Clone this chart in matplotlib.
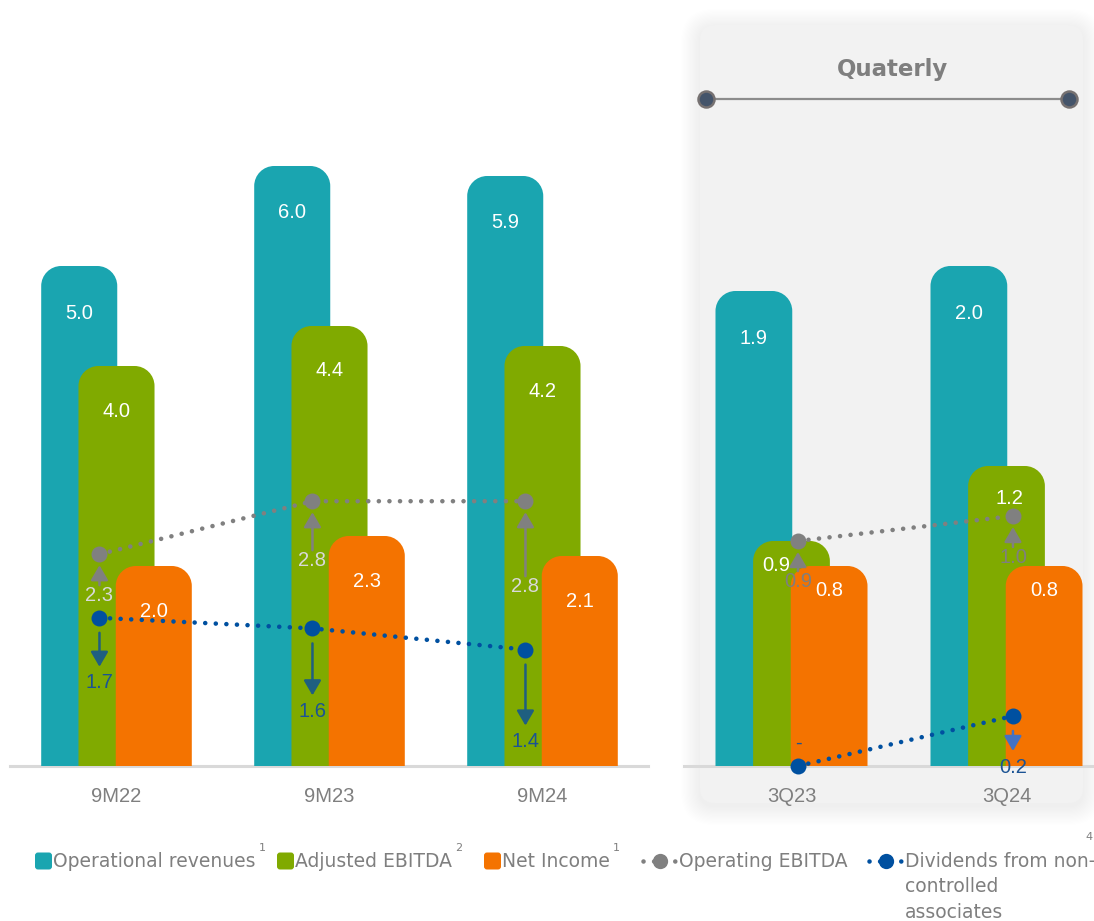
import matplotlib
matplotlib.use("Agg")
import matplotlib.pyplot as plt
from matplotlib.patches import FancyBboxPatch, PathPatch
from matplotlib.path import Path
from matplotlib.lines import Line2D
import numpy as np

# ---------------- data ----------------
categories_9m = ["9M22", "9M23", "9M24"]
categories_q = ["3Q23", "3Q24"]
op_rev_9m = [5.0, 6.0, 5.9]
adj_ebitda_9m = [4.0, 4.4, 4.2]
net_income_9m = [2.0, 2.3, 2.1]
operating_ebitda_9m = [2.3, 2.8, 2.8]
dividends_9m = [1.7, 1.6, 1.4]
op_rev_q = [1.9, 2.0]
adj_ebitda_q = [0.9, 1.2]
net_income_q = [0.8, 0.8]
operating_ebitda_q = [0.9, 1.0]
dividends_q = [0.0, 0.2]
legend_labels = ["Operational revenues", "Adjusted EBITDA", "Net Income",
                 "Operating EBITDA", "Dividends from non-\ncontrolled\nassociates"]
legend_notes = ["1", "2", "1", "", "4"]
panel_title = "Quaterly"

# ---------------- style ----------------
W, H = 1094, 921
TEAL, GREEN, ORANGE = "#1aa5b0", "#80aa00", "#f47300"
GRAY, BLUE = "#808080", "#0050a0"
TXT_GRAY = "#7f7f7f"
VAL_FONT = ["Liberation Sans", "DejaVu Sans"]
VAL_SIZE = 14.5
PT = 0.72  # points per pixel at dpi 100

fig = plt.figure(figsize=(W / 100, H / 100), dpi=100)
fig.patch.set_facecolor("white")


def inch(px, py):
    return px / 100.0, (H - py) / 100.0


# ---------------- quarterly panel box with shadow ----------------
bx0, by0, bx1, by1 = 700, 25, 1083, 803
for i in range(16, 0, -1):
    e = i * 1.2
    x0, y0 = inch(bx0 - e, by1 + e + 3)
    sh = FancyBboxPatch((x0, y0), (bx1 - bx0 + 2 * e) / 100, (by1 - by0 + 2 * e) / 100,
                        boxstyle=f"round,pad=0,rounding_size={(15 + e) / 100}",
                        transform=fig.dpi_scale_trans, facecolor="black", alpha=0.005,
                        edgecolor="none", zorder=-3)
    fig.add_artist(sh)
x0, y0 = inch(bx0, by1)
fig.add_artist(FancyBboxPatch((x0, y0), (bx1 - bx0) / 100, (by1 - by0) / 100,
                              boxstyle="round,pad=0,rounding_size=0.15",
                              transform=fig.dpi_scale_trans, facecolor="#f2f2f2",
                              edgecolor="none", zorder=-2))

# title and connector
tx, ty = inch(893, 69)
fig.text(tx / (W / 100), ty / (H / 100), panel_title, ha="center", va="center",
         fontsize=16.5, fontweight="bold", color=TXT_GRAY, family=["DejaVu Sans"])
lx0, ly = inch(706, 99)
lx1, _ = inch(1069, 99)
fig.add_artist(Line2D([lx0, lx1], [ly, ly], transform=fig.dpi_scale_trans,
                      color="#8c8c8c", lw=1.6, zorder=1))
fig.add_artist(Line2D([lx0, lx1], [ly, ly], transform=fig.dpi_scale_trans, ls="none",
                      marker="o", ms=11.5, mfc="#44546a", mec="#767171", mew=1.8, zorder=2))

# ---------------- axes ----------------
BASE = 766
TOP = 20
ax_h = BASE - TOP
axL = fig.add_axes([10 / W, (H - BASE) / H, 638 / W, ax_h / H])
axR = fig.add_axes([684 / W, (H - BASE) / H, 410 / W, ax_h / H])

PXY_L, PXX_L = 100.0, 213.0   # px per y unit, px per x unit (left)
PXY_R, PXX_R = 250.0, 215.0
axL.set_xlim(-0.5, 638 / PXX_L - 0.5)
axL.set_ylim(0, ax_h / PXY_L)
axR.set_xlim(-0.5, 410 / PXX_R - 0.5)
axR.set_ylim(0, ax_h / PXY_R)

for a in (axL, axR):
    a.patch.set_visible(False)
    for s in a.spines.values():
        s.set_visible(False)
    a.set_yticks([])
    a.tick_params(axis="x", length=0, pad=15, labelsize=14.5, labelcolor=TXT_GRAY)
    a.axhline(0, color="#d9d9d9", lw=2.2, zorder=0.5, clip_on=False)

axL.set_xticks(np.arange(len(categories_9m)), categories_9m, family=VAL_FONT)
axR.set_xticks(np.arange(len(categories_q)), categories_q, family=VAL_FONT)

BAR_W = 0.357
OFF = 0.175
K = 0.5523


def top_rounded(x0, w, h, rx, ry):
    verts = [(x0, 0), (x0, h - ry), (x0, h - ry + K * ry), (x0 + rx - K * rx, h),
             (x0 + rx, h), (x0 + w - rx, h), (x0 + w - rx + K * rx, h),
             (x0 + w, h - ry + K * ry), (x0 + w, h - ry), (x0 + w, 0), (x0, 0)]
    codes = [Path.MOVETO, Path.LINETO, Path.CURVE4, Path.CURVE4, Path.CURVE4,
             Path.LINETO, Path.CURVE4, Path.CURVE4, Path.CURVE4, Path.LINETO,
             Path.CLOSEPOLY]
    return Path(verts, codes)


def rounded_bars(ax, xs, vals, color, z, pxx, pxy, r_px=20):
    bars = ax.bar(xs, vals, width=BAR_W, color=color, zorder=z, linewidth=0)
    rx, ry = r_px / pxx, r_px / pxy
    for b in bars:
        ax.add_patch(PathPatch(top_rounded(b.get_x(), b.get_width(), b.get_height(), rx, ry),
                               facecolor=color, edgecolor="none", zorder=z))
        b.set_visible(False)
    return bars


def bar_labels(ax, xs, vals, dys, dxs=None):
    for i, (x, v) in enumerate(zip(xs, vals)):
        dx = 0 if dxs is None else dxs[i]
        ax.annotate(f"{v:.1f}", xy=(x, v), xytext=(dx * PT, -dys[i] * PT),
                    textcoords="offset points", ha="center", va="center",
                    color="white", fontsize=VAL_SIZE, family=VAL_FONT, zorder=10)


xL = np.arange(len(categories_9m))
xR = np.arange(len(categories_q))

rounded_bars(axL, xL - OFF, op_rev_9m, TEAL, 1, PXX_L, PXY_L)
rounded_bars(axL, xL, adj_ebitda_9m, GREEN, 2, PXX_L, PXY_L)
rounded_bars(axL, xL + OFF, net_income_9m, ORANGE, 3, PXX_L, PXY_L)
bar_labels(axL, xL - OFF, op_rev_9m, [47, 47, 47])
bar_labels(axL, xL, adj_ebitda_9m, [45, 45, 45])
bar_labels(axL, xL + OFF, net_income_9m, [45, 45, 45])

rounded_bars(axR, xR - OFF, op_rev_q, TEAL, 1, PXX_R, PXY_R)
rounded_bars(axR, xR, adj_ebitda_q, GREEN, 2, PXX_R, PXY_R)
rounded_bars(axR, xR + OFF, net_income_q, ORANGE, 3, PXX_R, PXY_R)
bar_labels(axR, xR - OFF, op_rev_q, [47, 47])
bar_labels(axR, xR, adj_ebitda_q, [24, 32], dxs=[-15, 3])
bar_labels(axR, xR + OFF, net_income_q, [24, 24])

# ---------------- lines ----------------
axL2 = axL.twinx()
axL2.set_ylim(32 / 106, 32 / 106 + ax_h / 106)
axL2.axis("off")

DOT = (0, (0.01, 2.3))


def dotted(ax, xs, vals, color):
    ax.plot(xs, vals, color=color, lw=3.3, ls=DOT, dash_capstyle="round", zorder=6,
            clip_on=False)
    ax.plot(xs, vals, ls="none", marker="o", ms=11.5, mfc=color, mec=color, mew=0,
            zorder=7, clip_on=False)


def line_labels(ax, xs, vals, dys, txt_color, arr_colors, head_at_marker):
    for x, v, dy, ac in zip(xs, vals, dys, arr_colors):
        txt = "-" if v == 0 else f"{v:.1f}"
        ax.annotate(txt, xy=(x, v), xytext=(0, -dy * PT), textcoords="offset points",
                    ha="center", va="center", color=txt_color, fontsize=VAL_SIZE,
                    family=VAL_FONT, zorder=11)
        if v == 0 or ac is None:
            continue
        if head_at_marker:
            props = dict(arrowstyle="-|>,head_length=0.6,head_width=0.35", color=ac,
                         lw=1.8, shrinkA=10 * PT, shrinkB=11 * PT, mutation_scale=15)
        else:
            props = dict(arrowstyle="<|-,head_length=0.6,head_width=0.35", color=ac,
                         lw=1.8, shrinkA=16 * PT, shrinkB=15 * PT, mutation_scale=15)
        ax.annotate("", xy=(x, v), xytext=(0, -dy * PT), textcoords="offset points",
                    arrowprops=props, zorder=9)


xl_line = xL - 0.08
xr_line = xR + 0.03
dotted(axL2, xl_line, operating_ebitda_9m, GRAY)
dotted(axL2, xl_line, dividends_9m, BLUE)
line_labels(axL2, xl_line, operating_ebitda_9m, [41, 59, 85], "#d9d9d9",
            [GRAY] * 3, True)
line_labels(axL2, xl_line, dividends_9m, [65, 83, 92], "#1b5394",
            ["#1f5f80"] * 3, False)

dotted(axR, xr_line, operating_ebitda_q, GRAY)
dotted(axR, xr_line, dividends_q, BLUE)
line_labels(axR, xr_line, operating_ebitda_q, [40, 41], TXT_GRAY, [GRAY] * 2, True)
line_labels(axR, xr_line, dividends_q, [-23, 51], "#1b5394", [None, "#4472c4"], False)

# ---------------- legend ----------------
renderer = fig.canvas.get_renderer()
LEG_Y = 861
item_x = [35, 277, 484, 640, 866]
colors = [TEAL, GREEN, ORANGE, GRAY, BLUE]
for i, (lab, note) in enumerate(zip(legend_labels, legend_notes)):
    x = item_x[i]
    if i < 3:
        sx, sy = inch(x, LEG_Y + 8.5)
        fig.add_artist(FancyBboxPatch((sx, sy), 0.17, 0.17,
                                      boxstyle="round,pad=0,rounding_size=0.03",
                                      transform=fig.dpi_scale_trans, facecolor=colors[i],
                                      edgecolor="none"))
        tx0 = x + 18
    else:
        ax0, ay = inch(x + 3, LEG_Y)
        ax1, _ = inch(x + 37, LEG_Y)
        fig.add_artist(Line2D([ax0, ax1], [ay, ay], transform=fig.dpi_scale_trans,
                              color=colors[i], lw=3.3, ls=DOT, dash_capstyle="round"))
        fig.add_artist(Line2D([(ax0 + ax1) / 2], [ay], transform=fig.dpi_scale_trans,
                              ls="none", marker="o", ms=11, mfc=colors[i], mew=0))
        tx0 = x + 39
    lines = lab.split("\n")
    first = None
    for k, ln in enumerate(lines):
        t = fig.text(tx0 / W, 1 - (LEG_Y + 25.5 * k) / H, ln, ha="left", va="center",
                     fontsize=13.5, color=TXT_GRAY, family=["DejaVu Sans"])
        if k == 0:
            first = t
    if note:
        ext = first.get_window_extent(renderer)
        nx = min(ext.x1 + 3, W - 9)
        ny = LEG_Y - 13 if ext.x1 + 3 < W - 9 else LEG_Y - 24
        fig.text(nx / W, 1 - ny / H, note, ha="left", va="center",
                 fontsize=8, color=TXT_GRAY, family=["DejaVu Sans"])

fig.savefig("out.png", dpi=100)
